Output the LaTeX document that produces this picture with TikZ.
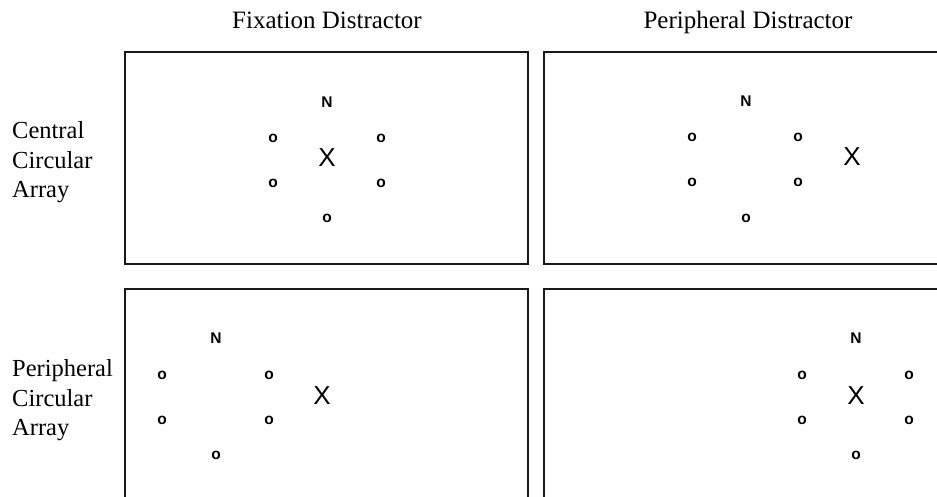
\documentclass[tikz,border=0pt]{standalone}
\usepackage{fontspec}
\setmainfont{Liberation Serif}
\newfontfamily\arialfont{Liberation Sans}
\begin{document}
\begin{tikzpicture}[x=1pt,y=-1pt,
  panel/.style={draw=black!90,line width=1.7pt},
  lab/.style={font=\fontsize{24.5}{28}\selectfont,inner sep=0pt,anchor=base west},
  head/.style={font=\fontsize{25}{28}\selectfont,inner sep=0pt,anchor=base},
  nmark/.style={font=\arialfont\bfseries\fontsize{15.5}{18}\selectfont,inner sep=0pt},
  omark/.style={font=\arialfont\bfseries\fontsize{15.5}{18}\selectfont,inner sep=0pt},
  xmark/.style={font=\arialfont\fontsize{26}{30}\selectfont,inner sep=0pt}]
\useasboundingbox (0,0) rectangle (937,496);
\fill[white] (0,0) rectangle (937,496);
% headings
\node[head] (h1) at (327,28) {Fixation Distractor};
\node[head] (h2) at (748,28) {Peripheral Distractor};
% row labels
\node[lab] (r1a) at (12,138) {Central};
\node[lab] (r1b) at (12,168) {Circular};
\node[lab] (r1c) at (12,197) {Array};
\node[lab] (r2a) at (12,376) {Peripheral};
\node[lab] (r2b) at (12,406) {Circular};
\node[lab] (r2c) at (12,435) {Array};
% panels
\begin{scope}
\clip (0,0) rectangle (937,496);
\draw[panel] (125,52) rectangle (528,264);
\draw[panel] (544,52) rectangle (960,264);
\draw[panel] (125,289) rectangle (528,520);
\draw[panel] (544,289) rectangle (960,520);
\end{scope}
% panel 1
\node[nmark] (n1) at (327,102) {N};
\node[omark] (a1) at (273,138) {o};
\node[omark] (b1) at (381,138) {o};
\node[omark] (c1) at (273,183) {o};
\node[omark] (d1) at (381,183) {o};
\node[omark] (e1) at (327,218) {o};
\node[xmark] (x1) at (327,158) {X};
% panel 2
\node[nmark] (n2) at (746,101) {N};
\node[omark] (a2) at (692,137) {o};
\node[omark] (b2) at (798,137) {o};
\node[omark] (c2) at (692,182) {o};
\node[omark] (d2) at (798,182) {o};
\node[omark] (e2) at (746,218) {o};
\node[xmark] (x2) at (852,157) {X};
% panel 3
\node[nmark] (n3) at (216,338) {N};
\node[omark] (a3) at (162,375) {o};
\node[omark] (b3) at (269,375) {o};
\node[omark] (c3) at (162,420) {o};
\node[omark] (d3) at (269,420) {o};
\node[omark] (e3) at (216,455) {o};
\node[xmark] (x3) at (322,396) {X};
% panel 4
\node[nmark] (n4) at (856,338) {N};
\node[omark] (a4) at (802,375) {o};
\node[omark] (b4) at (909,375) {o};
\node[omark] (c4) at (802,420) {o};
\node[omark] (d4) at (909,420) {o};
\node[omark] (e4) at (856,455) {o};
\node[xmark] (x4) at (856,396) {X};
\end{tikzpicture}
\end{document}
